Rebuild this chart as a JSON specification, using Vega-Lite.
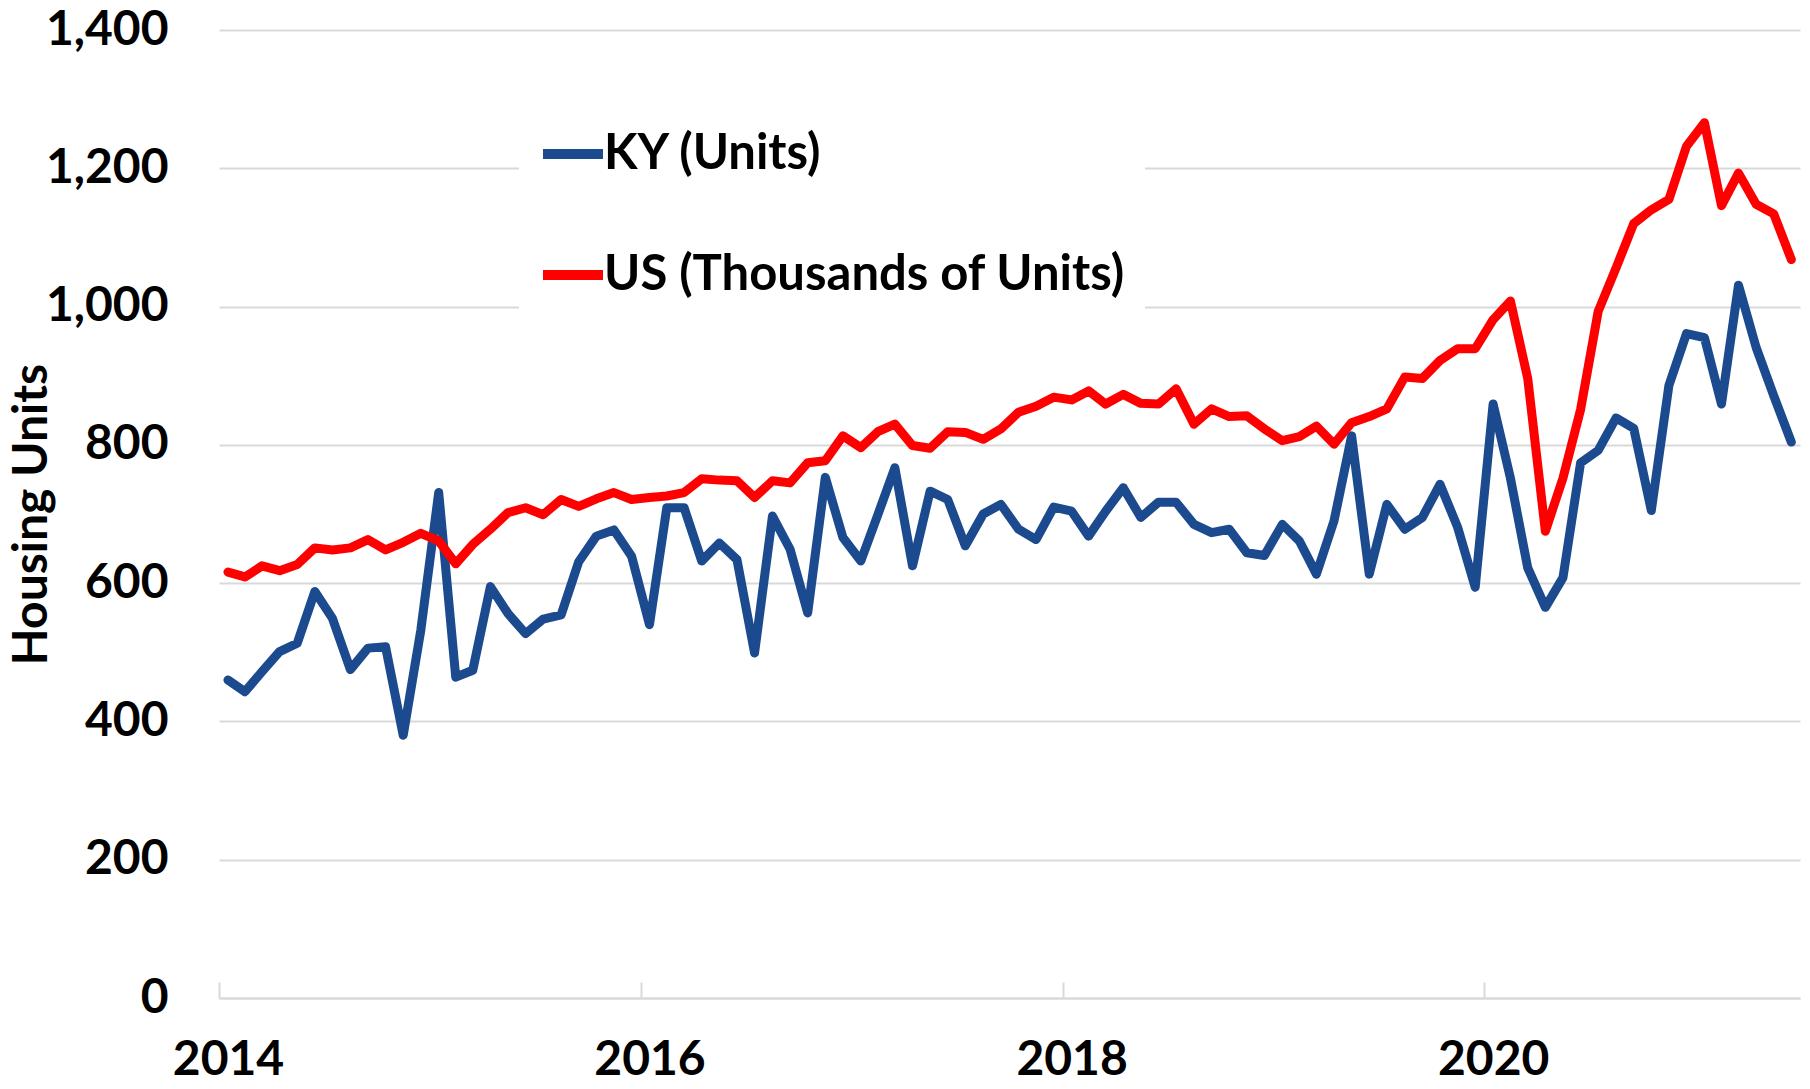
{
  "$schema": "https://vega.github.io/schema/vega-lite/v6.json",
  "autosize": "none",
  "width": 1581,
  "height": 968,
  "padding": {"left": 219, "top": 30, "right": 10, "bottom": 91},
  "background": "white",
  "config": {
    "view": {"stroke": null},
    "font": "Lato"
  },
  "data": {"values": [
    {"date":"2014-01","series":"KY (Units)","value":460},{"date":"2014-02","series":"KY (Units)","value":443},{"date":"2014-03","series":"KY (Units)","value":472},{"date":"2014-04","series":"KY (Units)","value":501},{"date":"2014-05","series":"KY (Units)","value":513},{"date":"2014-06","series":"KY (Units)","value":588},{"date":"2014-07","series":"KY (Units)","value":549},{"date":"2014-08","series":"KY (Units)","value":475},{"date":"2014-09","series":"KY (Units)","value":506},{"date":"2014-10","series":"KY (Units)","value":508},{"date":"2014-11","series":"KY (Units)","value":380},{"date":"2014-12","series":"KY (Units)","value":532},
    {"date":"2015-01","series":"KY (Units)","value":731},{"date":"2015-02","series":"KY (Units)","value":464},{"date":"2015-03","series":"KY (Units)","value":474},{"date":"2015-04","series":"KY (Units)","value":595},{"date":"2015-05","series":"KY (Units)","value":556},{"date":"2015-06","series":"KY (Units)","value":527},{"date":"2015-07","series":"KY (Units)","value":548},{"date":"2015-08","series":"KY (Units)","value":554},{"date":"2015-09","series":"KY (Units)","value":631},{"date":"2015-10","series":"KY (Units)","value":668},{"date":"2015-11","series":"KY (Units)","value":677},{"date":"2015-12","series":"KY (Units)","value":639},
    {"date":"2016-01","series":"KY (Units)","value":540},{"date":"2016-02","series":"KY (Units)","value":709},{"date":"2016-03","series":"KY (Units)","value":709},{"date":"2016-04","series":"KY (Units)","value":632},{"date":"2016-05","series":"KY (Units)","value":658},{"date":"2016-06","series":"KY (Units)","value":634},{"date":"2016-07","series":"KY (Units)","value":499},{"date":"2016-08","series":"KY (Units)","value":697},{"date":"2016-09","series":"KY (Units)","value":649},{"date":"2016-10","series":"KY (Units)","value":557},{"date":"2016-11","series":"KY (Units)","value":753},{"date":"2016-12","series":"KY (Units)","value":666},
    {"date":"2017-01","series":"KY (Units)","value":632},{"date":"2017-02","series":"KY (Units)","value":699},{"date":"2017-03","series":"KY (Units)","value":767},{"date":"2017-04","series":"KY (Units)","value":625},{"date":"2017-05","series":"KY (Units)","value":733},{"date":"2017-06","series":"KY (Units)","value":721},{"date":"2017-07","series":"KY (Units)","value":654},{"date":"2017-08","series":"KY (Units)","value":700},{"date":"2017-09","series":"KY (Units)","value":714},{"date":"2017-10","series":"KY (Units)","value":678},{"date":"2017-11","series":"KY (Units)","value":663},{"date":"2017-12","series":"KY (Units)","value":710},
    {"date":"2018-01","series":"KY (Units)","value":704},{"date":"2018-02","series":"KY (Units)","value":668},{"date":"2018-03","series":"KY (Units)","value":704},{"date":"2018-04","series":"KY (Units)","value":738},{"date":"2018-05","series":"KY (Units)","value":695},{"date":"2018-06","series":"KY (Units)","value":717},{"date":"2018-07","series":"KY (Units)","value":717},{"date":"2018-08","series":"KY (Units)","value":685},{"date":"2018-09","series":"KY (Units)","value":673},{"date":"2018-10","series":"KY (Units)","value":678},{"date":"2018-11","series":"KY (Units)","value":644},{"date":"2018-12","series":"KY (Units)","value":640},
    {"date":"2019-01","series":"KY (Units)","value":685},{"date":"2019-02","series":"KY (Units)","value":661},{"date":"2019-03","series":"KY (Units)","value":613},{"date":"2019-04","series":"KY (Units)","value":690},{"date":"2019-05","series":"KY (Units)","value":813},{"date":"2019-06","series":"KY (Units)","value":613},{"date":"2019-07","series":"KY (Units)","value":714},{"date":"2019-08","series":"KY (Units)","value":678},{"date":"2019-09","series":"KY (Units)","value":695},{"date":"2019-10","series":"KY (Units)","value":743},{"date":"2019-11","series":"KY (Units)","value":681},{"date":"2019-12","series":"KY (Units)","value":594},
    {"date":"2020-01","series":"KY (Units)","value":859},{"date":"2020-02","series":"KY (Units)","value":752},{"date":"2020-03","series":"KY (Units)","value":622},{"date":"2020-04","series":"KY (Units)","value":565},{"date":"2020-05","series":"KY (Units)","value":608},{"date":"2020-06","series":"KY (Units)","value":774},{"date":"2020-07","series":"KY (Units)","value":792},{"date":"2020-08","series":"KY (Units)","value":839},{"date":"2020-09","series":"KY (Units)","value":824},{"date":"2020-10","series":"KY (Units)","value":705},{"date":"2020-11","series":"KY (Units)","value":886},{"date":"2020-12","series":"KY (Units)","value":961},
    {"date":"2021-01","series":"KY (Units)","value":955},{"date":"2021-02","series":"KY (Units)","value":859},{"date":"2021-03","series":"KY (Units)","value":1031},{"date":"2021-04","series":"KY (Units)","value":941},{"date":"2021-05","series":"KY (Units)","value":871},{"date":"2021-06","series":"KY (Units)","value":804},
    {"date":"2014-01","series":"US (Thousands of Units)","value":616},{"date":"2014-02","series":"US (Thousands of Units)","value":609},{"date":"2014-03","series":"US (Thousands of Units)","value":625},{"date":"2014-04","series":"US (Thousands of Units)","value":618},{"date":"2014-05","series":"US (Thousands of Units)","value":627},{"date":"2014-06","series":"US (Thousands of Units)","value":651},{"date":"2014-07","series":"US (Thousands of Units)","value":648},{"date":"2014-08","series":"US (Thousands of Units)","value":651},{"date":"2014-09","series":"US (Thousands of Units)","value":663},{"date":"2014-10","series":"US (Thousands of Units)","value":648},{"date":"2014-11","series":"US (Thousands of Units)","value":659},{"date":"2014-12","series":"US (Thousands of Units)","value":672},
    {"date":"2015-01","series":"US (Thousands of Units)","value":661},{"date":"2015-02","series":"US (Thousands of Units)","value":628},{"date":"2015-03","series":"US (Thousands of Units)","value":656},{"date":"2015-04","series":"US (Thousands of Units)","value":678},{"date":"2015-05","series":"US (Thousands of Units)","value":702},{"date":"2015-06","series":"US (Thousands of Units)","value":709},{"date":"2015-07","series":"US (Thousands of Units)","value":699},{"date":"2015-08","series":"US (Thousands of Units)","value":721},{"date":"2015-09","series":"US (Thousands of Units)","value":711},{"date":"2015-10","series":"US (Thousands of Units)","value":722},{"date":"2015-11","series":"US (Thousands of Units)","value":731},{"date":"2015-12","series":"US (Thousands of Units)","value":721},
    {"date":"2016-01","series":"US (Thousands of Units)","value":724},{"date":"2016-02","series":"US (Thousands of Units)","value":726},{"date":"2016-03","series":"US (Thousands of Units)","value":731},{"date":"2016-04","series":"US (Thousands of Units)","value":751},{"date":"2016-05","series":"US (Thousands of Units)","value":749},{"date":"2016-06","series":"US (Thousands of Units)","value":748},{"date":"2016-07","series":"US (Thousands of Units)","value":724},{"date":"2016-08","series":"US (Thousands of Units)","value":748},{"date":"2016-09","series":"US (Thousands of Units)","value":745},{"date":"2016-10","series":"US (Thousands of Units)","value":774},{"date":"2016-11","series":"US (Thousands of Units)","value":777},{"date":"2016-12","series":"US (Thousands of Units)","value":813},
    {"date":"2017-01","series":"US (Thousands of Units)","value":796},{"date":"2017-02","series":"US (Thousands of Units)","value":819},{"date":"2017-03","series":"US (Thousands of Units)","value":830},{"date":"2017-04","series":"US (Thousands of Units)","value":799},{"date":"2017-05","series":"US (Thousands of Units)","value":795},{"date":"2017-06","series":"US (Thousands of Units)","value":819},{"date":"2017-07","series":"US (Thousands of Units)","value":818},{"date":"2017-08","series":"US (Thousands of Units)","value":808},{"date":"2017-09","series":"US (Thousands of Units)","value":823},{"date":"2017-10","series":"US (Thousands of Units)","value":847},{"date":"2017-11","series":"US (Thousands of Units)","value":856},{"date":"2017-12","series":"US (Thousands of Units)","value":869},
    {"date":"2018-01","series":"US (Thousands of Units)","value":865},{"date":"2018-02","series":"US (Thousands of Units)","value":878},{"date":"2018-03","series":"US (Thousands of Units)","value":859},{"date":"2018-04","series":"US (Thousands of Units)","value":873},{"date":"2018-05","series":"US (Thousands of Units)","value":860},{"date":"2018-06","series":"US (Thousands of Units)","value":859},{"date":"2018-07","series":"US (Thousands of Units)","value":881},{"date":"2018-08","series":"US (Thousands of Units)","value":830},{"date":"2018-09","series":"US (Thousands of Units)","value":852},{"date":"2018-10","series":"US (Thousands of Units)","value":841},{"date":"2018-11","series":"US (Thousands of Units)","value":842},{"date":"2018-12","series":"US (Thousands of Units)","value":823},
    {"date":"2019-01","series":"US (Thousands of Units)","value":806},{"date":"2019-02","series":"US (Thousands of Units)","value":812},{"date":"2019-03","series":"US (Thousands of Units)","value":827},{"date":"2019-04","series":"US (Thousands of Units)","value":801},{"date":"2019-05","series":"US (Thousands of Units)","value":832},{"date":"2019-06","series":"US (Thousands of Units)","value":841},{"date":"2019-07","series":"US (Thousands of Units)","value":852},{"date":"2019-08","series":"US (Thousands of Units)","value":898},{"date":"2019-09","series":"US (Thousands of Units)","value":896},{"date":"2019-10","series":"US (Thousands of Units)","value":922},{"date":"2019-11","series":"US (Thousands of Units)","value":939},{"date":"2019-12","series":"US (Thousands of Units)","value":939},
    {"date":"2020-01","series":"US (Thousands of Units)","value":981},{"date":"2020-02","series":"US (Thousands of Units)","value":1008},{"date":"2020-03","series":"US (Thousands of Units)","value":896},{"date":"2020-04","series":"US (Thousands of Units)","value":675},{"date":"2020-05","series":"US (Thousands of Units)","value":752},{"date":"2020-06","series":"US (Thousands of Units)","value":851},{"date":"2020-07","series":"US (Thousands of Units)","value":993},{"date":"2020-08","series":"US (Thousands of Units)","value":1056},{"date":"2020-09","series":"US (Thousands of Units)","value":1120},{"date":"2020-10","series":"US (Thousands of Units)","value":1140},{"date":"2020-11","series":"US (Thousands of Units)","value":1155},{"date":"2020-12","series":"US (Thousands of Units)","value":1232},
    {"date":"2021-01","series":"US (Thousands of Units)","value":1266},{"date":"2021-02","series":"US (Thousands of Units)","value":1146},{"date":"2021-03","series":"US (Thousands of Units)","value":1193},{"date":"2021-04","series":"US (Thousands of Units)","value":1148},{"date":"2021-05","series":"US (Thousands of Units)","value":1134},{"date":"2021-06","series":"US (Thousands of Units)","value":1068}
  ]},
  "mark": {"type": "line", "strokeWidth": 9, "strokeJoin": "round", "strokeCap": "round", "clip": false},
  "encoding": {
    "x": {
      "field": "date",
      "type": "temporal",
      "timeUnit": "utcyearmonth",
      "bandPosition": 0.5,
      "scale": {"type": "utc", "domain": [{"year": 2014, "month": 1, "date": 1, "utc": true}, {"year": 2021, "month": 7, "date": 1, "utc": true}]},
      "axis": {
        "title": null,
        "grid": false,
        "values": [{"year": 2014, "month": 1, "date": 1, "utc": true}, {"year": 2016, "month": 1, "date": 1, "utc": true}, {"year": 2018, "month": 1, "date": 1, "utc": true}, {"year": 2020, "month": 1, "date": 1, "utc": true}],
        "labelExpr": "utcFormat(datum.value, '%Y')",
        "domainColor": "#d9d9d9",
        "domainWidth": 2,
        "tickColor": "#d9d9d9",
        "tickWidth": 2,
        "tickSize": -16,
        "labelFont": "Lato",
        "labelFontSize": 48,
        "labelFontWeight": "bold",
        "labelColor": "black",
        "labelPadding": 54,
        "labelOffset": 9,
        "labelFlush": false,
        "labelOverlap": false,
        "labelLimit": 0
      }
    },
    "y": {
      "field": "value",
      "type": "quantitative",
      "scale": {"domain": [0, 1400], "nice": false, "zero": true},
      "axis": {
        "title": "Housing Units",
        "values": [0, 200, 400, 600, 800, 1000, 1200, 1400],
        "format": ",.0f",
        "grid": true,
        "gridColor": "#d9d9d9",
        "gridWidth": 2,
        "domain": false,
        "ticks": false,
        "labelFont": "Lato",
        "labelFontSize": 48,
        "labelFontWeight": "bold",
        "labelColor": "black",
        "labelPadding": 51,
        "labelOverlap": false,
        "titleFont": "Lato",
        "titleFontSize": 48,
        "titleFontWeight": "bold",
        "titleColor": "black",
        "titleAngle": -90,
        "titleX": -187,
        "titleY": 484,
        "titleAlign": "center",
        "titleBaseline": "middle"
      }
    },
    "color": {
      "field": "series",
      "type": "nominal",
      "scale": {"domain": ["KY (Units)", "US (Thousands of Units)"], "range": ["#1C4A8E", "#FF0000"]},
      "legend": {
        "title": null,
        "orient": "none",
        "legendX": 300,
        "legendY": 70,
        "fillColor": "white",
        "padding": 19,
        "symbolType": "stroke",
        "symbolSize": 3600,
        "symbolStrokeWidth": 10,
        "labelFont": "Lato",
        "labelFontSize": 49,
        "labelFontWeight": "bold",
        "labelColor": "black",
        "labelOffset": -4,
        "labelLimit": 0,
        "rowPadding": 61
      }
    }
  }
}
